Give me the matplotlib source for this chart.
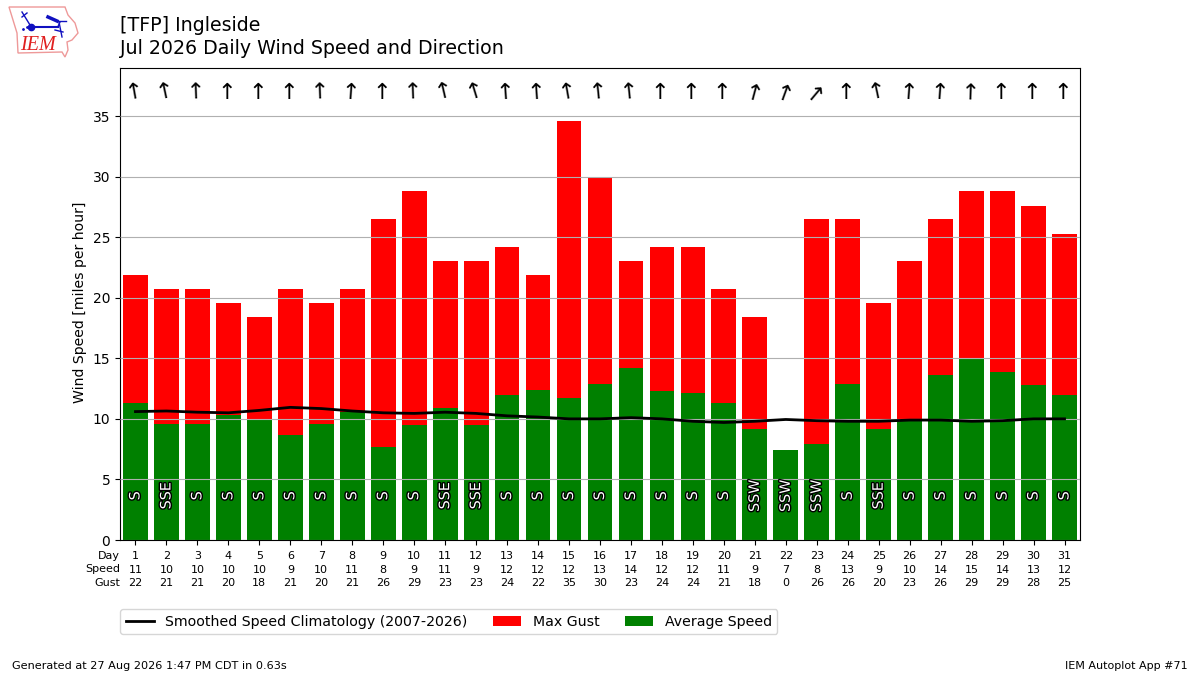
import matplotlib

matplotlib.use("Agg")
import matplotlib.patheffects as PathEffects
import matplotlib.pyplot as plt
from matplotlib.patches import Polygon

days = list(range(1, 32))
gust_mph = [21.9, 20.7, 20.7, 19.6, 18.4, 20.7, 19.6, 20.7, 26.5, 28.8, 23.0,
            23.0, 24.2, 21.9, 34.6, 30.0, 23.0, 24.2, 24.2, 20.7, 18.4, 0.0,
            26.5, 26.5, 19.6, 23.0, 26.5, 28.8, 28.8, 27.6, 25.3]
avg_mph = [11.3, 9.6, 9.6, 10.3, 10.0, 8.7, 9.6, 10.6, 7.7, 9.5, 10.9,
           9.5, 12.0, 12.4, 11.7, 12.9, 14.2, 12.3, 12.1, 11.3, 9.2, 7.4,
           7.9, 12.9, 9.2, 10.0, 13.6, 15.0, 13.9, 12.8, 12.0]
clim_mph = [10.6, 10.65, 10.55, 10.5, 10.7, 10.95, 10.85, 10.65, 10.5, 10.45, 10.55,
            10.45, 10.25, 10.15, 10.0, 10.0, 10.1, 10.0, 9.8, 9.7, 9.8, 9.95,
            9.85, 9.8, 9.8, 9.9, 9.9, 9.8, 9.85, 10.0, 10.0]
speed_labels = [11, 10, 10, 10, 10, 9, 10, 11, 8, 9, 11, 9, 12, 12, 12, 13, 14,
                12, 12, 11, 9, 7, 8, 13, 9, 10, 14, 15, 14, 13, 12]
gust_labels = [22, 21, 21, 20, 18, 21, 20, 21, 26, 29, 23, 23, 24, 22, 35, 30, 23,
               24, 24, 21, 18, 0, 26, 26, 20, 23, 26, 29, 29, 28, 25]
dir_labels = ["S", "SSE", "S", "S", "S", "S", "S", "S", "S", "S", "SSE",
              "SSE", "S", "S", "S", "S", "S", "S", "S", "S", "SSW", "SSW",
              "SSW", "S", "SSE", "S", "S", "S", "S", "S", "S"]
dir_degrees = [170, 168, 178, 180, 180, 180, 178, 184, 180, 178, 167,
               163, 176, 176, 170, 174, 174, 180, 180, 180, 195, 200,
               220, 180, 168, 184, 184, 182, 180, 180, 180]
iowa_x = [9, 65, 68, 75, 78, 72, 67, 68, 65, 62, 18, 17, 13]
iowa_y = [7, 7, 15, 23, 33, 40, 42, 50, 57, 52, 53, 33, 20]

fig = plt.figure(figsize=(12, 6.75), dpi=100)
ax = fig.add_axes([0.1, 0.2, 0.8, 0.699])

ax.bar(days, gust_mph, width=0.8, color="red", label="Max Gust", zorder=2)
ax.bar(days, avg_mph, width=0.8, color="green", label="Average Speed", zorder=2)
ax.plot(days, clim_mph, color="black", lw=2,
        label="Smoothed Speed Climatology (2007-2026)", zorder=4)
ax.grid(axis="y", color="#b0b0b0", zorder=3)
ax.set_axisbelow(False)
ax.xaxis.grid(False)

for day, label, degrees in zip(days, dir_labels, dir_degrees):
    ax.text(day, 3.65, label, rotation=90, ha="center", va="center", color="white",
            fontsize=10.3, zorder=5,
            path_effects=[PathEffects.withStroke(linewidth=2, foreground="black")])
    ax.text(day - 0.17, 36.95, r"$\uparrow$", rotation=180 - degrees,
            ha="center", va="center", fontsize=16, zorder=5)

ax.set_xlim(0.5, 31.5)
ax.set_ylim(0, 38.95)
ax.set_yticks(range(0, 36, 5))
ax.set_ylabel("Wind Speed [miles per hour]", fontsize=10.1, y=0.503)
ax.set_xticks(days)
ax.set_xticklabels([f"{d}\n{s}\n{g}" for d, s, g in zip(days, speed_labels, gust_labels)],
                   fontsize=8, linespacing=1.45)
ax.tick_params(axis="x", pad=4.6)
ax.text(0, -0.0225, "Day\nSpeed\nGust", transform=ax.transAxes, ha="right", va="top",
        fontsize=8, linespacing=1.45)

fig.text(0.1, 0.9625, "[TFP] Ingleside", fontsize=13.65, va="center")
fig.text(0.1, 0.9287, "Jul 2026 Daily Wind Speed and Direction", fontsize=13.65, va="center")

handles, labels = ax.get_legend_handles_labels()
fig.legend(handles, labels, ncol=3, loc="upper left", bbox_to_anchor=(0.1, 0.098),
           borderaxespad=0, fontsize=10.2, columnspacing=1.8)

fig.text(0.01, 0.0095, "Generated at 27 Aug 2026 1:47 PM CDT in 0.63s", fontsize=8.1)
fig.text(0.99, 0.0095, "IEM Autoplot App #71", fontsize=8, ha="right")

# logo, drawn in pixel coordinates of the picture
logo = fig.add_axes([0, 1 - 60 / 675, 85 / 1200, 60 / 675])
logo.set_xlim(0, 85)
logo.set_ylim(60, 0)
logo.axis("off")
logo.add_patch(Polygon(list(zip(iowa_x, iowa_y)), closed=True, fill=False,
                       edgecolor="#ee9999", lw=1))
logo.plot([31, 58], [26.5, 26.5], color="#1010c0", lw=1.5)
logo.plot([58, 60], [26.5, 22], color="#1010c0", lw=1)
logo.plot([57, 66], [21, 21], color="#1010c0", lw=1)
logo.plot([31], [26.5], "o", color="#1010c0", ms=4.5)
logo.plot([22, 30], [12, 25], color="#1010c0", lw=1)
logo.plot([22, 27], [17, 13], color="#1010c0", lw=1)
logo.plot([48, 57], [17, 21], color="#1010c0", lw=2.5)
logo.plot([59, 62], [22, 37], color="#1010c0", lw=1)
logo.plot([55, 63], [30, 32], color="#1010c0", lw=1)
logo.plot([23, 27], [29, 27], ".", color="#1010c0", ms=2)
logo.text(38, 45, "IEM", color="#e02020", fontsize=14.5, family="Liberation Serif",
          style="italic", ha="center", va="center")

fig.savefig("out.png", dpi=100)
